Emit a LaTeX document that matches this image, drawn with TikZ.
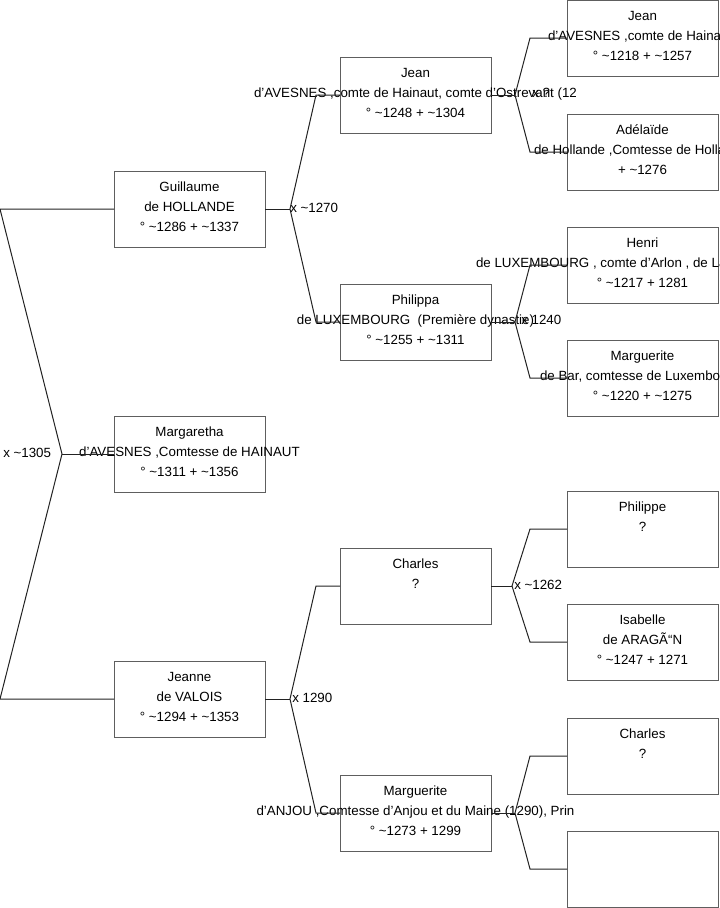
\documentclass[tikz,border=0pt]{standalone}
\usepackage{fontspec}
\setmainfont{Liberation Sans}
\newlength\pxu
\setlength\pxu{0.75pt}
\definecolor{boxgray}{HTML}{5E5E5E}
\definecolor{linedark}{HTML}{222222}
\begin{document}
\begin{tikzpicture}[x=0.75pt,y=-0.75pt,
  pbox/.style={draw=boxgray, line width=1\pxu, minimum width=151\pxu, minimum height=76\pxu, inner sep=0pt, outer sep=0pt, anchor=north west},
  ptext/.style={anchor=north, inner sep=0pt, align=center, font=\fontsize{10}{15}\selectfont},
  conn/.style={draw=linedark, line width=1\pxu},
  mlabel/.style={anchor=west, inner sep=0pt, font=\fontsize{10}{12}\selectfont}]
\useasboundingbox (0,0) rectangle (719,908);
\clip (0,0) rectangle (719,908);
% ---------- boxes ----------
% column 1
\node[pbox] (guil) at (114,171) {};
\node[pbox] (marg) at (114,416) {};
\node[pbox] (jeanne) at (114,661) {};
% column 2
\node[pbox] (jean) at (340,57) {};
\node[pbox] (phil) at (340,284) {};
\node[pbox] (charles) at (340,548) {};
\node[pbox] (margu) at (340,775) {};
% column 3
\node[pbox] (jeanp) at (567,0) {};
\node[pbox] (adel) at (567,114) {};
\node[pbox] (henri) at (567,227) {};
\node[pbox] (margb) at (567,340) {};
\node[pbox] (philp) at (567,491) {};
\node[pbox] (isab) at (567,604) {};
\node[pbox] (charp) at (567,718) {};
\node[pbox] (empty) at (567,831) {};
% ---------- texts ----------
\newcommand\fl{\rule{0pt}{10pt}}
\node[ptext] (guilT) at ([yshift=-5.4pt]guil.north) {\fl Guillaume\\de HOLLANDE\\° \textasciitilde1286 + \textasciitilde1337};
\node[ptext] (margT) at ([yshift=-5.4pt]marg.north) {\fl Margaretha\\d'AVESNES ,Comtesse de HAINAUT\\° \textasciitilde1311 + \textasciitilde1356};
\node[ptext] (jeanneT) at ([yshift=-5.4pt]jeanne.north) {\fl Jeanne\\de VALOIS\\° \textasciitilde1294 + \textasciitilde1353};
\node[ptext] (jeanT) at ([yshift=-5.4pt]jean.north) {\fl Jean\\d'AVESNES ,comte de Hainaut, comte d'Ostrevant (12\\° \textasciitilde1248 + \textasciitilde1304};
\node[ptext] (philT) at ([yshift=-5.4pt]phil.north) {\fl Philippa\\de LUXEMBOURG\ \ (Première dynastie)\\° \textasciitilde1255 + \textasciitilde1311};
\node[ptext] (charlesT) at ([yshift=-5.4pt]charles.north) {\fl Charles\\?};
\node[ptext] (marguT) at ([yshift=-5.4pt]margu.north) {\fl Marguerite\\d'ANJOU ,Comtesse d'Anjou et du Maine (1290), Prin\\° \textasciitilde1273 + 1299};
\node[ptext] (jeanpT) at ([yshift=-5.4pt]jeanp.north) {\fl Jean\\\makebox[189\pxu][l]{d'AVESNES ,comte de Hainaut, comte d'Ostrevant}\\° \textasciitilde1218 + \textasciitilde1257};
\node[ptext] (adelT) at ([yshift=-5.4pt]adel.north) {\fl Adélaïde\\\makebox[217\pxu][l]{de Hollande ,Comtesse de Hollande}\\+ \textasciitilde1276};
\node[ptext] (henriT) at ([yshift=-5.4pt]henri.north) {\fl Henri\\\makebox[333\pxu][l]{de LUXEMBOURG , comte d'Arlon , de La Roche}\\° \textasciitilde1217 + 1281};
\node[ptext] (margbT) at ([yshift=-5.4pt]margb.north) {\fl Marguerite\\\makebox[205\pxu][l]{de Bar, comtesse de Luxembourg}\\° \textasciitilde1220 + \textasciitilde1275};
\node[ptext] (philpT) at ([yshift=-5.4pt]philp.north) {\fl Philippe\\?};
\node[ptext] (isabT) at ([yshift=-5.4pt]isab.north) {\fl Isabelle\\de ARAGÃ“N\\° \textasciitilde1247 + 1271};
\node[ptext] (charpT) at ([yshift=-5.4pt]charp.north) {\fl Charles\\?};
% ---------- marriage labels ----------
\node[mlabel] (lA) at (3,453) {x \textasciitilde1305};
\node[mlabel] (lB) at (290,208) {x \textasciitilde1270};
\node[mlabel] (lC) at (292,698) {x 1290};
\node[mlabel] (lD) at (532,93) {x ?};
\node[mlabel] (lE) at (521,320) {x 1240};
\node[mlabel] (lF) at (514,585) {x \textasciitilde1262};
% ---------- connectors ----------
% family of Margaretha
\coordinate (vA) at ([xshift=-52\pxu]marg.west);
\coordinate (aF) at ([xshift=-114\pxu]guil.west);
\coordinate (aM) at ([xshift=-114\pxu]jeanne.west);
\draw[conn] (marg.west) -- (vA);
\draw[conn] (guil.west) -- (aF) -- (vA) -- (aM) -- (jeanne.west);
% family of Guillaume
\coordinate (vB) at ([xshift=25\pxu]guil.east);
\coordinate (bF) at ([xshift=-24\pxu]jean.west);
\coordinate (bM) at ([xshift=-24\pxu]phil.west);
\draw[conn] (guil.east) -- (vB);
\draw[conn] (jean.west) -- (bF) -- (vB) -- (bM) -- (phil.west);
% family of Jeanne
\coordinate (vC) at ([xshift=25\pxu]jeanne.east);
\coordinate (cF) at ([xshift=-24\pxu]charles.west);
\coordinate (cM) at ([xshift=-24\pxu]margu.west);
\draw[conn] (jeanne.east) -- (vC);
\draw[conn] (charles.west) -- (cF) -- (vC) -- (cM) -- (margu.west);
% family of Jean
\coordinate (vD) at ([xshift=24\pxu]jean.east);
\coordinate (dF) at ([xshift=-37\pxu]jeanp.west);
\coordinate (dM) at ([xshift=-37\pxu]adel.west);
\draw[conn] (jean.east) -- (vD);
\draw[conn] (jeanp.west) -- (dF) -- (vD) -- (dM) -- (adel.west);
% family of Philippa
\coordinate (vE) at ([xshift=24\pxu]phil.east);
\coordinate (eF) at ([xshift=-37\pxu]henri.west);
\coordinate (eM) at ([xshift=-37\pxu]margb.west);
\draw[conn] (phil.east) -- (vE);
\draw[conn] (henri.west) -- (eF) -- (vE) -- (eM) -- (margb.west);
% family of Charles
\coordinate (vF) at ([xshift=21\pxu]charles.east);
\coordinate (fF) at ([xshift=-37\pxu]philp.west);
\coordinate (fM) at ([xshift=-37\pxu]isab.west);
\draw[conn] (charles.east) -- (vF);
\draw[conn] (philp.west) -- (fF) -- (vF) -- (fM) -- (isab.west);
% family of Marguerite
\coordinate (vG) at ([xshift=24\pxu]margu.east);
\coordinate (gF) at ([xshift=-37\pxu]charp.west);
\coordinate (gM) at ([xshift=-37\pxu]empty.west);
\draw[conn] (margu.east) -- (vG);
\draw[conn] (charp.west) -- (gF) -- (vG) -- (gM) -- (empty.west);
\end{tikzpicture}
\end{document}
